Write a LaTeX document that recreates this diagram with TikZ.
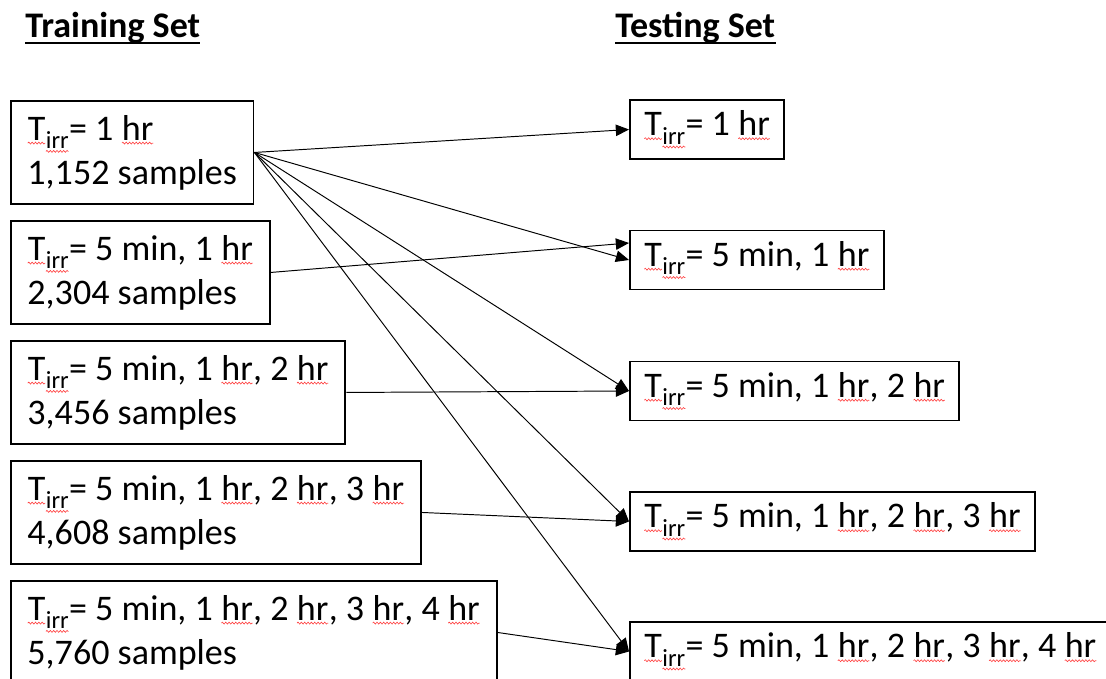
\documentclass[tikz,border=0pt]{standalone}
\usepackage{fontspec}
\setmainfont{Carlito}
\usetikzlibrary{arrows.meta}
\usetikzlibrary{decorations.pathmorphing}

\tikzset{
    spell/.style={draw=red!75,line width=0.35pt,decorate,
        decoration={snake,amplitude=0.55pt,segment length=1.9pt}},
    trainbox/.style={draw,line width=1.1pt,anchor=north west,align=left,
        minimum height=2.06cm,inner xsep=0.33cm,
        font=\fontsize{20.5}{25}\selectfont},
    testbox/.style={draw,line width=1.1pt,anchor=west,
        minimum height=1.18cm,inner xsep=0.28cm,
        font=\fontsize{20.5}{25}\selectfont},
    link/.style={line width=0.55pt,-{Triangle[length=7.5pt,width=6.5pt]}}
}
% wavy red underline
\newcommand\sq[1]{\tikz[baseline=(w.base)]{\node[draw=none,fill=none,inner sep=0pt,outer sep=0pt,
    minimum size=0pt,anchor=base] (w) {#1};
    \draw[spell] ([yshift=-1.7pt]w.base west) -- ([yshift=-1.7pt]w.base east);}}
\newcommand\tirr{\sq{T}\raisebox{-0.23em}{\fontsize{14}{15}\selectfont\sq{irr}}=}
\newcommand\hr{\sq{hr}}

\begin{document}
\begin{tikzpicture}
                \clip (0,0) rectangle (22.12,-13.58);

                \node[anchor=base west,inner sep=0pt,font=\fontsize{20.5}{25}\selectfont\bfseries] (train) at (0.5,-0.746) {Training Set};
                \draw[line width=0.9pt] ([yshift=-0.11cm]train.base west) -- ([yshift=-0.11cm]train.base east);
                \node[anchor=base west,inner sep=0pt,font=\fontsize{20.5}{25}\selectfont\bfseries] (test) at (12.3,-0.746) {Testing Set};
                \draw[line width=0.9pt] ([yshift=-0.11cm]test.base west) -- ([yshift=-0.11cm]test.base east);

                \node[trainbox] (b1) at (0.2,-2.0) {\tirr{} 1 \hr\\1,152 samples};
                \node[trainbox] (b2) at (0.2,-4.4) {\tirr{} 5 min, 1 \hr\\2,304 samples};
                \node[trainbox] (b3) at (0.2,-6.8) {\tirr{} 5 min, 1 \hr, 2 \hr\\3,456 samples};
                \node[trainbox] (b4) at (0.2,-9.2) {\tirr{} 5 min, 1 \hr, 2 \hr, 3 \hr\\4,608 samples};
                \node[trainbox] (b5) at (0.2,-11.6) {\tirr{} 5 min, 1 \hr, 2 \hr, 3 \hr, 4 \hr\\5,760 samples};

                \node[testbox] (r1) at (12.58,-2.59) {\tirr{} 1 \hr};
                \node[testbox] (r2) at (12.58,-5.2) {\tirr{} 5 min, 1 \hr};
                \node[testbox] (r3) at (12.58,-7.82) {\tirr{} 5 min, 1 \hr, 2 \hr};
                \node[testbox] (r4) at (12.58,-10.43) {\tirr{} 5 min, 1 \hr, 2 \hr, 3 \hr};
                \node[testbox] (r5) at (12.58,-13.03) {\tirr{} 5 min, 1 \hr, 2 \hr, 3 \hr, 4 \hr};

                \foreach \i in {1,...,5}{
                    \draw[link] (b1.east) -- (r\i.west);
                }
                \draw[link] (b2.east) -- ([yshift=0.34cm]r2.west);
                \foreach \i in {3,...,5}{
                    \draw[link] (b\i.east) -- (r\i.west);
                }
\end{tikzpicture}
\end{document}
